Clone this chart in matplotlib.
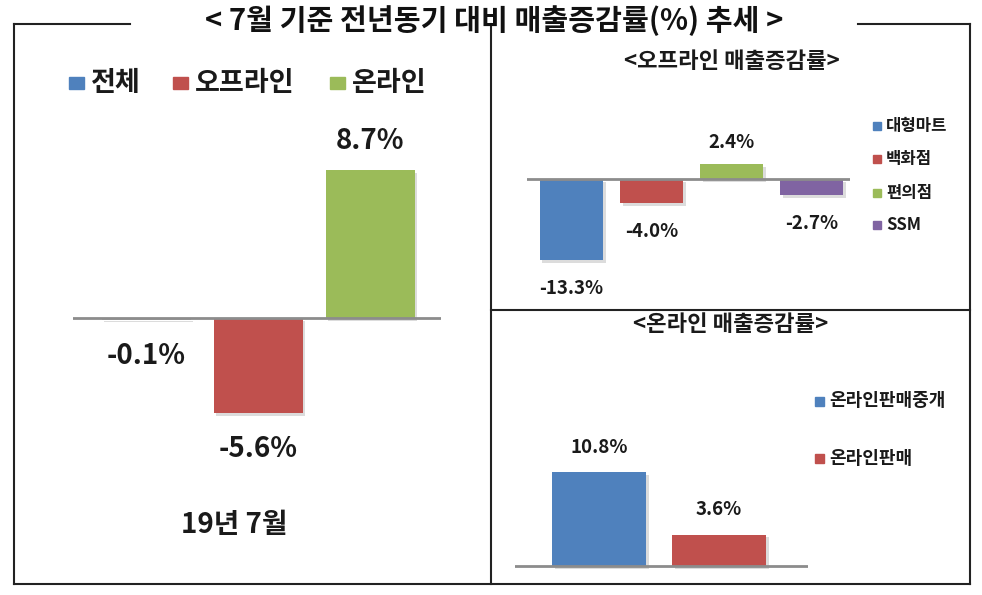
import matplotlib
matplotlib.use("Agg")
import matplotlib.pyplot as plt
import matplotlib.patheffects as pe
from matplotlib.lines import Line2D
from matplotlib.patches import Rectangle

plt.rcParams['font.family'] = ['Noto Sans CJK KR', 'DejaVu Sans']

W, H = 982, 595

# data
main_title = "< 7월 기준 전년동기 대비 매출증감률(%) 추세 >"
total_labels = ["전체", "오프라인", "온라인"]
total_values = [-0.1, -5.6, 8.7]
total_period = "19년 7월"

offline_title = "<오프라인 매출증감률>"
offline_labels = ["대형마트", "백화점", "편의점", "SSM"]
offline_values = [-13.3, -4.0, 2.4, -2.7]

online_title = "<온라인 매출증감률>"
online_labels = ["온라인판매중개", "온라인판매"]
online_values = [10.8, 3.6]

BLUE = "#4F81BD"
RED = "#C0504D"
GREEN = "#9BBB59"
PURPLE = "#8064A2"
GREY = "#bfbfbf"


def px_axes(fig, x0, y0, x1, y1):
    # pixel box (top-left origin) -> figure axes
    ax = fig.add_axes([x0 / W, 1 - y1 / H, (x1 - x0) / W, (y1 - y0) / H])
    ax.axis("off")
    return ax


def fx(x):
    return x / W


def fy(y):
    return 1 - y / H


shadow = [pe.SimplePatchShadow(offset=(2, -2), alpha=0.25, shadow_rgbFace="#777777"), pe.Normal()]


def draw_bars(ax, values, colors, width, fontsize, gap_up, gap_down):
    xs = list(range(len(values)))
    bars = ax.bar(xs, values, width=width, color=colors, zorder=2)
    for b in bars:
        b.set_path_effects(shadow)
    ax.axhline(0, color="#8c8c8c", lw=2, zorder=3)
    for x, v in zip(xs, values):
        off = gap_up if v >= 0 else -gap_down
        ax.annotate(f"{v:.1f}%", (x, v), xytext=(0, off), textcoords="offset pixels",
                    ha="center", va="center", fontsize=fontsize, fontweight="bold",
                    color="#1a1a1a")


fig = plt.figure(figsize=(W / 100, H / 100), dpi=100)

# frame lines
lc = "#222222"
for (x0, y0, x1, y1) in [(14, 24, 130, 24), (858, 24, 970, 24), (14, 24, 14, 584),
                         (970, 24, 970, 584), (14, 584, 970, 584), (491, 24, 491, 584),
                         (491, 310, 970, 310)]:
    fig.add_artist(Line2D([fx(x0), fx(x1)], [fy(y0), fy(y1)], color=lc, lw=1.5))

fig.text(fx(494), fy(21), main_title, ha="center", va="center", fontsize=21,
         fontweight="bold", color="#111111")

# left panel: total
ax1 = px_axes(fig, 73, 130, 441, 470)
step = 112.0
ax1.set_xlim(-(146 - 73) / step, 2 + (441 - 370) / step)
ax1.set_ylim(-(470 - 318) / 17.0, (318 - 130) / 17.0)
draw_bars(ax1, total_values, [GREY, RED, GREEN], 89 / step, 20, 29, 36)

leg_x = [69, 173, 330]
for x, lab, c in zip(leg_x, total_labels, [BLUE, RED, GREEN]):
    fig.add_artist(Rectangle((fx(x), fy(89)), 15 / W, 12 / H, color=c))
    fig.text(fx(x + 22), fy(83), lab, ha="left", va="center", fontsize=19.5,
             fontweight="bold", color="#1a1a1a")
fig.text(fx(234), fy(525), total_period, ha="center", va="center", fontsize=20,
         fontweight="bold", color="#1a1a1a")

# top right: offline
ax2 = px_axes(fig, 527, 110, 850, 305)
step2 = 80.0
ax2.set_xlim(-(571 - 527) / step2, 3 + (850 - 812) / step2)
ax2.set_ylim(-(305 - 179) / 6.1, (179 - 110) / 6.1)
draw_bars(ax2, offline_values, [BLUE, RED, GREEN, PURPLE], 63 / step2, 13.5, 22, 28)
fig.text(fx(732), fy(62), offline_title, ha="center", va="center", fontsize=16,
         fontweight="bold", color="#1a1a1a")
for i, (lab, c) in enumerate(zip(offline_labels, [BLUE, RED, GREEN, PURPLE])):
    y = [126, 159, 193, 225][i]
    fig.add_artist(Rectangle((fx(873), fy(y + 4)), 8 / W, 8 / H, color=c))
    fig.text(fx(886), fy(y), lab, ha="left", va="center", fontsize=12,
             fontweight="bold", color="#1a1a1a")

# bottom right: online
ax3 = px_axes(fig, 515, 380, 808, 580)
step3 = 120.0
ax3.set_xlim(-(599 - 515) / step3, 1 + (808 - 719) / step3)
ax3.set_ylim(-(580 - 566) / 8.7, (566 - 380) / 8.7)
draw_bars(ax3, online_values, [BLUE, RED], 94 / step3, 13.5, 25, 25)
fig.text(fx(731), fy(325), online_title, ha="center", va="center", fontsize=16,
         fontweight="bold", color="#1a1a1a")
for i, (lab, c) in enumerate(zip(online_labels, [BLUE, RED])):
    y = [401, 458][i]
    fig.add_artist(Rectangle((fx(815), fy(y + 5)), 9 / W, 9 / H, color=c))
    fig.text(fx(829), fy(y), lab, ha="left", va="center", fontsize=13,
             fontweight="bold", color="#1a1a1a")

fig.savefig("out.png", dpi=100, facecolor="white")
